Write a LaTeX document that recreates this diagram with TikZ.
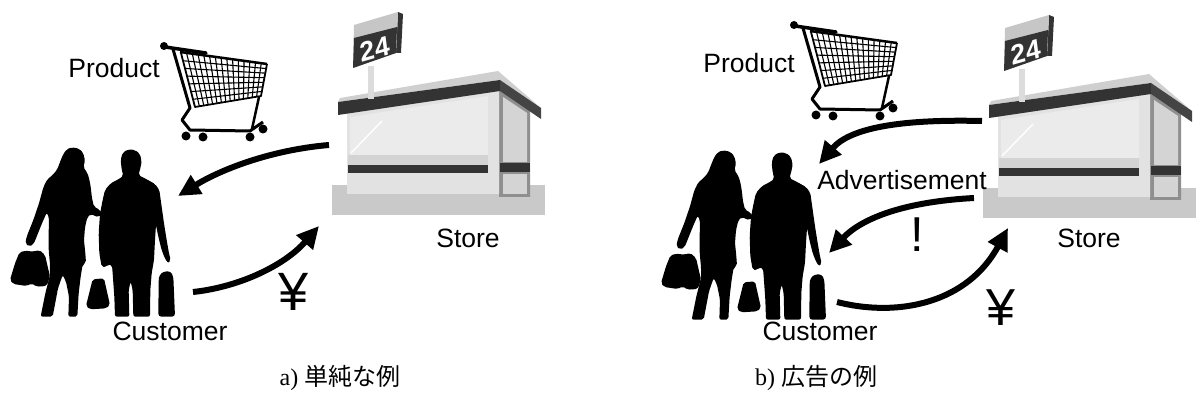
\documentclass[tikz,border=0pt]{standalone}
\usepackage{fontspec}
\setmainfont{Liberation Sans}
\newfontfamily\capserif{Liberation Serif}
\newfontfamily\cjk{Noto Sans CJK JP}
\usetikzlibrary{arrows.meta}

\definecolor{darkband}{HTML}{333333}
\definecolor{darkside}{HTML}{444444}
\definecolor{basegray}{HTML}{C9C9C9}
\definecolor{framegray}{HTML}{8F8F8F}
\definecolor{panelgray}{HTML}{D4D4D4}
\definecolor{wallgray}{HTML}{E2E2E2}
\definecolor{glassgray}{HTML}{EBEBEB}
\definecolor{bandgray}{HTML}{D3D3D3}
\definecolor{roofgray}{HTML}{CFCFCF}
\definecolor{polegray}{HTML}{DCDCDC}
\definecolor{signgray}{HTML}{C6C6C6}

% 24-hour store with its sign
\newcommand{\storeicon}{%
  \fill[basegray] (332,185) rectangle (545,215);
  \fill[framegray] (499,90) -- (530,110) -- (530,197) -- (499,197) -- cycle;
  \fill[panelgray] (503,97) -- (527,113) -- (527,162) -- (503,162) -- cycle;
  \fill[panelgray] (503,174) rectangle (527,194);
  \fill[darkband] (500,163) rectangle (530,172);
  \fill[wallgray] (347,112) -- (499,88) -- (499,194) -- (347,194) -- cycle;
  \fill[glassgray] (350,117) -- (488,96) -- (488,155) -- (350,155) -- cycle;
  \fill[bandgray] (348,155) rectangle (488,165);
  \fill[darkband] (348,165) rectangle (488,173);
  \draw[white, line width=1.4pt] (351,153) -- (382,121);
  \fill[roofgray] (338,102) -- (340,98) -- (498,71) -- (541,108) -- (500,80) -- cycle;
  \fill[darkband] (338,102) -- (500,80) -- (500,91) -- (338,115) -- cycle;
  \fill[darkside] (500,80) -- (541,108) -- (541,119) -- (500,91) -- cycle;
  \fill[polegray] (368,66) rectangle (374,99);
  \fill[darkband] (398,12) -- (403,14) -- (401,53) -- (396,53) -- cycle;
  \fill[signgray] (354,25) -- (398,12) -- (396,53) -- (353,68) -- cycle;
  \fill[darkband] (354,38) -- (397,27) -- (396,53) -- (353,68) -- cycle;
  \node[white, inner sep=0pt, rotate=16, xslant=0.15,
        font=\bfseries\fontsize{27}{27}\selectfont] at (375,49) {24};
}

% shopping cart
\newcommand{\carticon}{%
  \draw[line width=3.5pt, line cap=round] (165,47) -- (206,53);
  \fill (164,46) circle (4);
  \draw[line width=3pt, line join=round] (173,49) -- (190,108) -- (182,120) -- (190,130)
        -- (250,131) -- (263,122);
  \draw[line width=2.5pt] (180,52) -- (267,64);
  \draw[line width=1.8pt, line join=round] (181,53) -- (195,107) -- (261,96) -- (267,64);
  \foreach \i in {1,...,14}
    \draw[line width=1.1pt] ({181+\i*86/15},{53+\i*11/15}) -- ({195+\i*66/15},{107-\i*11/15});
  \foreach \j in {1,...,6}
    \draw[line width=1.1pt] ({181+\j*14/7},{53+\j*54/7}) -- ({267-\j*6/7},{64+\j*32/7});
  \draw[line width=2.5pt] (259,97) -- (252,129);
  \fill (186,136) circle (4.5);
  \fill (203,137) circle (4.5);
  \fill (250,137) circle (4.5);
  \fill (263,129) circle (4.5);
}

% couple of shoppers, drawn in a 1/3 scale frame
\newcommand{\shopperpair}{%
  \fill[rounded corners=2pt]
    (215,22) -- (238,26) -- (250,40) -- (255,62) -- (250,82) -- (262,98) -- (268,118)
    -- (272,140) -- (276,175) -- (282,200) -- (300,210) -- (306,222) -- (295,232)
    -- (272,222) -- (262,232) -- (255,262) -- (252,300) -- (256,340) -- (258,368)
    -- (248,374) -- (242,410) -- (236,460) -- (232,530) -- (205,530) -- (207,470)
    -- (198,425) -- (188,405) -- (174,445) -- (158,530) -- (122,530) -- (136,460)
    -- (150,405) -- (150,372) -- (146,330) -- (146,280) -- (147,232) -- (140,218)
    -- (126,250) -- (110,290) -- (101,312) -- (88,320) -- (76,310) -- (80,290)
    -- (100,240) -- (117,190) -- (130,142) -- (142,118) -- (158,105) -- (172,88)
    -- (180,66) -- (190,42) -- (200,28) -- cycle;
  \fill[rounded corners=2pt]
    (385,28) -- (405,30) -- (420,42) -- (425,65) -- (420,90) -- (415,105) -- (440,118)
    -- (465,132) -- (478,150) -- (485,200) -- (492,250) -- (500,300) -- (507,340)
    -- (512,360) -- (505,370) -- (495,356) -- (485,330) -- (475,290) -- (468,255)
    -- (465,300) -- (462,360) -- (455,400) -- (451,450) -- (450,530) -- (400,530)
    -- (398,450) -- (392,425) -- (386,450) -- (388,530) -- (345,530) -- (343,470)
    -- (338,400) -- (336,376) -- (325,372) -- (318,382) -- (305,380) -- (298,340)
    -- (296,280) -- (300,222) -- (308,180) -- (315,150) -- (332,130) -- (355,118)
    -- (370,108) -- (365,88) -- (362,60) -- (368,38) -- cycle;
  \fill[rounded corners=3pt]
    (478,405) -- (492,394) -- (512,394) -- (520,410) -- (525,530) -- (475,530) -- (476,420) -- cycle;
  \fill[rounded corners=2pt]
    (278,418) -- (312,415) -- (330,495) -- (318,505) -- (270,508) -- (258,498) -- cycle;
  \fill[rounded corners=2pt]
    (58,338) -- (75,332) -- (100,335) -- (118,330) -- (135,345) -- (150,410) -- (140,438)
    -- (110,440) -- (95,430) -- (80,438) -- (40,432) -- (30,420) -- (45,370) -- cycle;
}

\begin{document}
\begin{tikzpicture}[x=1pt, y=-1pt,
  flow/.style={line width=6pt, -{Triangle[length=22pt,width=21pt]}},
  lbl/.style={inner sep=0pt, font=\fontsize{26.5}{30}\selectfont},
  symb/.style={inner sep=0pt},
  caption/.style={inner sep=0pt, font=\fontsize{24}{28}\selectfont}]
\useasboundingbox (0,0) rectangle (1200,414);

% ---- a) simple case ----
\storeicon
\carticon
\begin{scope}[shift={(0,140)}, scale=1/3]
  \shopperpair
\end{scope}

\node[lbl] (prodA) at (114,68) {Product};
\node[lbl] (custA) at (170,331) {Customer};
\node[lbl] (storeA) at (468,238) {Store};
\node[symb, font=\fontsize{54}{54}\selectfont] (yenA) at (294,292) {¥};

\coordinate (goodsA0) at (329,145);
\coordinate (goodsA1) at (178,196);
\coordinate (payA0) at (193,292);
\coordinate (payA1) at (319,226);
\draw[flow] (goodsA0) .. controls (270,150) and (220,170) .. (goodsA1);
\draw[flow] (payA0) .. controls (240,287) and (285,265) .. (payA1);

\node[caption] (capA) at (340,378) {\capserif a)\ \cjk 単純な例};

% ---- b) with advertisement ----
\begin{scope}[shift={(651,3)}]
  \storeicon
\end{scope}
\begin{scope}[shift={(630,-21)}]
  \carticon
\end{scope}
\begin{scope}[shift={(651,143)}, scale=1/3]
  \shopperpair
\end{scope}

\node[lbl] (prodB) at (749,63) {Product};
\node[lbl] (custB) at (820,331) {Customer};
\node[lbl] (storeB) at (1089,238) {Store};
\node[lbl] (adv) at (902,180) {Advertisement};
\node[symb, font=\fontsize{49}{49}\selectfont] (bang) at (917,235) {!};
\node[symb, font=\fontsize{52}{52}\selectfont] (yenB) at (1001,308) {¥};

\coordinate (goodsB0) at (982,121);
\coordinate (goodsB1) at (819,164);
\coordinate (adB0) at (974,198);
\coordinate (adB1) at (829,253);
\coordinate (payB0) at (837,302);
\coordinate (payB1) at (1008,228);
\draw[flow] (goodsB0) .. controls (900,119) and (850,128) .. (goodsB1);
\draw[flow] (adB0) .. controls (900,202) and (860,220) .. (adB1);
\draw[flow] (payB0) .. controls (900,318) and (968,302) .. (payB1);

\node[caption] (capB) at (816,378) {\capserif b)\ \cjk 広告の例};
\end{tikzpicture}
\end{document}
